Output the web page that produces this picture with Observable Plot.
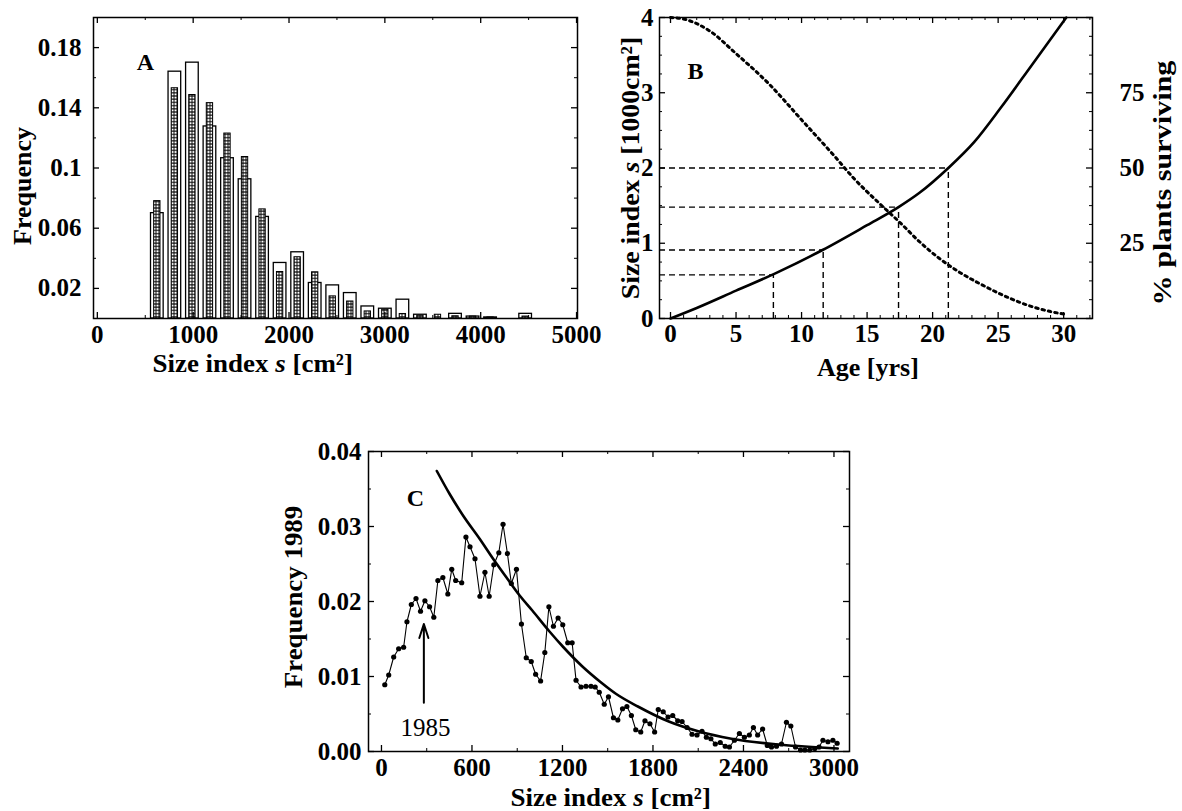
<!DOCTYPE html>
<html><head><meta charset="utf-8">
<script src="https://cdn.jsdelivr.net/npm/d3@7"></script>
<script src="https://cdn.jsdelivr.net/npm/@observablehq/plot@0.6"></script>
<style>
body{margin:0;background:#fff;}
#wrap{position:relative;width:1182px;height:811px;overflow:hidden;background:#fff;font-family:"Liberation Serif","Times New Roman",serif;color:#000;}
#wrap svg{position:absolute;}
.lbl{position:absolute;font-weight:bold;white-space:nowrap;line-height:1;transform-origin:center center;}
</style></head><body><div id="wrap"></div>
<script>
// ---------------- Panel A: size-class histogram ----------------
const aBinCenter   = [626, 809, 992, 1175, 1358, 1541, 1724, 1907, 2090, 2273, 2456, 2639, 2822, 3005, 3188, 3371, 3554, 3737, 3920, 4103, 4469];
const aFreqOpen    = [0.070, 0.164, 0.170, 0.1276, 0.1065, 0.0925, 0.0675, 0.0369, 0.044, 0.0236, 0.022, 0.0169, 0.008, 0.0065, 0.0125, 0.0025, 0, 0.0031, 0.0013, 0.0007, 0.0031];
const aFreqHatched = [0.078, 0.153, 0.1485, 0.1431, 0.1229, 0.1073, 0.0725, 0.0309, 0.0407, 0.0307, 0.0147, 0.0113, 0.0047, 0.0058, 0.003, 0.0018, 0.0025, 0.0015, 0.0013, 0.0007, 0.0013];
const aXTicks = [0, 1000, 2000, 3000, 4000, 5000];
const aXMinor = [500, 1500, 2500, 3500, 4500];
const aYTicks = [0.02, 0.06, 0.1, 0.14, 0.18];
const aYMinor = [0.04, 0.08, 0.12, 0.16];
const aPanelLabel = [{text: "A", x: 501, y: 0.170}];

// ---------------- Panel B: growth and survival vs age ----------------
const bGrowthAge  = [0, 2, 5, 8, 11.6, 15, 17.4, 19, 21.2, 23.2, 25.2, 27.7, 30.2];
const bGrowthSize = [0, 0.14, 0.37, 0.6, 0.91, 1.24, 1.48, 1.67, 2.0, 2.35, 2.8, 3.4, 4.0];
const bSurvAge = [0, 1, 3, 5, 7.5, 10, 12.5, 14, 16, 17.6, 19, 20.5, 22, 23.5, 25, 27, 29, 30];
const bSurvPct = [100, 99.5, 95.5, 88, 78, 66, 54, 46.5, 38, 31.5, 25.5, 20, 15.5, 11.8, 8.5, 4.8, 2.3, 1.5];
const bRefAge  = [7.85, 11.65, 17.4, 21.2];
const bRefSize = [0.58, 0.91, 1.48, 2.0];
const bXTicks = [0, 5, 10, 15, 20, 25, 30];
const bXMinor = [1,2,3,4,6,7,8,9,11,12,13,14,16,17,18,19,21,22,23,24,26,27,28,29,31,32];
const bYTicks = [0, 1, 2, 3, 4];
const bYMinor = [0.25,0.5,0.75,1.25,1.5,1.75,2.25,2.5,2.75,3.25,3.5,3.75];
const bRightLabels = [25, 50, 75];
const PCT_PER_UNIT = 25; // right axis: 100 % == 4 on the left axis
const bPanelLabel = [{text: "B", x: 1.9, y: 3.29}];

// ---------------- Panel C: frequency 1989 ----------------
const cSize = [22,48,81,114,147,169,198,229,259,288,319,347,374,407,440,466,492,532,560,587,620,653,686,714,745,778,806,835,861,895,928,960,993,1022,1055,1083,1110,1140,1171,1202,1235,1264,1290,1323,1356,1389,1417,1444,1477,1505,1538,1567,1598,1627,1657,1686,1719,1747,1780,1811,1835,1868,1900,1931,1964,1993,2026,2059,2092,2125,2154,2184,2213,2246,2279,2307,2340,2373,2406,2439,2466,2494,2527,2558,2586,2619,2652,2685,2714,2745,2778,2807,2840,2873,2901,2927,2960,2993,3021];
const cFreq = [0.0089,0.0102,0.0126,0.0137,0.0139,0.0173,0.0196,0.0204,0.0187,0.0201,0.0193,0.0179,0.0228,0.0232,0.0210,0.0243,0.0228,0.0225,0.0286,0.0273,0.0257,0.0207,0.0239,0.0207,0.0249,0.0265,0.0303,0.0264,0.0224,0.0243,0.0170,0.0125,0.0120,0.0103,0.0094,0.0132,0.0193,0.0167,0.0178,0.0169,0.0145,0.0145,0.0095,0.0086,0.0087,0.0087,0.0086,0.0079,0.0063,0.0073,0.0045,0.0042,0.0057,0.0060,0.0048,0.0029,0.0026,0.0041,0.0037,0.0026,0.0056,0.0053,0.0046,0.0048,0.0041,0.0040,0.0032,0.0023,0.0022,0.0027,0.0019,0.0017,0.0010,0.0012,0.0007,0.0006,0.0015,0.0024,0.0019,0.0022,0.0032,0.0022,0.0030,0.0008,0.0006,0.0007,0.0010,0.0039,0.0034,0.0006,0.0002,0.0002,0.0002,0.0004,0.0006,0.0015,0.0013,0.0015,0.0011];
const cFitSize = [367, 450, 543, 653, 740, 829, 916, 1000, 1114, 1202, 1334, 1450, 1554, 1700, 1905, 2100, 2320, 2650, 3025];
const cFitFreq = [0.0374, 0.0344, 0.0314, 0.0283, 0.0257, 0.0232, 0.0208, 0.0188, 0.0160, 0.0140, 0.0113, 0.0093, 0.0077, 0.0060, 0.0040, 0.0027, 0.0017, 0.0009, 0.0004];
const cXTicks = [0, 600, 1200, 1800, 2400, 3000];
const cXMinor = [300, 900, 1500, 2100, 2700];
const cYTicks = [0, 0.01, 0.02, 0.03, 0.04];
const cYMinor = [0.005, 0.015, 0.025, 0.035];
const cArrow = [{x: 281, y1: 0.0065, y2: 0.0170}];
const cArrowLabel = [{text: "1985", x: 292, y: 0.0032}];
const cPanelLabel = [{text: "C", x: 225, y: 0.0337}];

// ---------------- helpers ----------------
const wrap = document.getElementById("wrap");
const FONT = '"Liberation Serif","Times New Roman",serif';
const baseStyle = {fontFamily: FONT, fontSize: "25px", fontWeight: "bold", color: "black", background: "transparent", overflow: "visible"};
const MAJ = 6, MIN = 3;

// inward ticks on all four sides of the frame
function frameTicks(fw, fh, {xMajor, xMinor, yMajor, yMinor}) {
  const m = [];
  for (const [ticks, len, sw] of [[xMajor, MAJ, 1.3], [xMinor, MIN, 1]]) {
    m.push(Plot.tickX(ticks, {x: d => d, insetTop: fh - len, strokeWidth: sw}));
    m.push(Plot.tickX(ticks, {x: d => d, insetBottom: fh - len, strokeWidth: sw}));
  }
  for (const [ticks, len, sw] of [[yMajor, MAJ, 1.3], [yMinor, MIN, 1]]) {
    m.push(Plot.tickY(ticks, {y: d => d, insetRight: fw - len, strokeWidth: sw}));
    m.push(Plot.tickY(ticks, {y: d => d, insetLeft: fw - len, strokeWidth: sw}));
  }
  return m;
}

function place(svg, left, top) {
  svg.style.left = left + "px";
  svg.style.top = top + "px";
  wrap.appendChild(svg);
}

function addLabel(html, cx, cy, {rotate = 0, size = 26, len = null, weight = "bold"} = {}) {
  const el = document.createElement("div");
  el.className = "lbl";
  el.innerHTML = html;
  el.style.fontSize = size + "px";
  el.style.fontWeight = weight;
  wrap.appendChild(el);
  const w = el.offsetWidth, h = el.offsetHeight;
  const s = len ? len / w : 1;
  el.style.left = (cx - w / 2) + "px";
  el.style.top = (cy - h / 2) + "px";
  el.style.transform = `rotate(${rotate}deg) scaleX(${s})`;
}

// ---------------- Panel A ----------------
const rowsA = aBinCenter.map((c, i) => ({c, open: aFreqOpen[i], hat: aFreqHatched[i]}));
const OPEN_HALF = 66, HAT_HALF = 33;
const A = {width: 600, height: 390, marginLeft: 93, marginRight: 23, marginTop: 17, marginBottom: 72};
const plotA = Plot.plot({
  ...A,
  style: baseStyle,
  x: {domain: [-40, 5010]},
  y: {domain: [0, 0.2]},
  marks: [
    Plot.rect(rowsA.filter(d => d.open > 0), {x1: d => d.c - OPEN_HALF, x2: d => d.c + OPEN_HALF, y1: 0, y2: "open", fill: "white", stroke: "black", strokeWidth: 1.3}),
    Plot.rect(rowsA.filter(d => d.hat > 0), {x1: d => d.c - HAT_HALF, x2: d => d.c + HAT_HALF, y1: 0, y2: "hat", fill: "url(#dotsA)", stroke: "black", strokeWidth: 1}),
    ...frameTicks(A.width - A.marginLeft - A.marginRight, A.height - A.marginTop - A.marginBottom,
                  {xMajor: aXTicks, xMinor: aXMinor, yMajor: aYTicks, yMinor: aYMinor}),
    Plot.axisX({ticks: aXTicks, tickSize: 0, tickPadding: 7, tickFormat: d => String(d), label: null}),
    Plot.axisY({ticks: aYTicks, tickSize: 0, tickPadding: 12, tickFormat: d => String(d), label: null}),
    Plot.frame({strokeWidth: 1.5}),
    Plot.text(aPanelLabel, {x: "x", y: "y", text: "text", fontSize: 24, fontWeight: "bold"})
  ]
});
const ns = "http://www.w3.org/2000/svg";
const defs = document.createElementNS(ns, "defs");
defs.innerHTML = '<pattern id="dotsA" width="3" height="3.2" patternUnits="userSpaceOnUse"><rect width="3" height="3.2" fill="#2a2a2a"/><circle cx="1.5" cy="1.6" r="1.05" fill="#fff"/></pattern>';
plotA.insertBefore(defs, plotA.firstChild);
place(plotA, 0, 0);

// ---------------- Panel B ----------------
const growth = bGrowthAge.map((a, i) => ({age: a, s: bGrowthSize[i]}));
const surv = bSurvAge.map((a, i) => ({age: a, s: bSurvPct[i] / PCT_PER_UNIT}));
const refs = bRefAge.map((a, i) => ({age: a, s: bRefSize[i]}));
const bXDomain = [-0.84, 32.2];
const B = {width: 582, height: 390, marginLeft: 59, marginRight: 90, marginTop: 17, marginBottom: 72};
const plotB = Plot.plot({
  ...B,
  style: baseStyle,
  x: {domain: bXDomain},
  y: {domain: [0, 4]},
  marks: [
    Plot.ruleY(refs, {y: "s", x1: bXDomain[0], x2: "age", strokeWidth: 1.4, strokeDasharray: "6,4"}),
    Plot.ruleX(refs, {x: "age", y1: 0, y2: "s", strokeWidth: 1.4, strokeDasharray: "6,4"}),
    Plot.line(surv, {x: "age", y: "s", curve: "monotone-x", strokeWidth: 3, strokeDasharray: "2.5,4"}),
    Plot.line(growth, {x: "age", y: "s", curve: "monotone-x", strokeWidth: 2.6}),
    ...frameTicks(B.width - B.marginLeft - B.marginRight, B.height - B.marginTop - B.marginBottom,
                  {xMajor: bXTicks, xMinor: bXMinor, yMajor: bYTicks, yMinor: bYMinor}),
    Plot.axisX({ticks: bXTicks, tickSize: 0, tickPadding: 6, tickFormat: d => String(d), label: null}),
    Plot.axisY({ticks: bYTicks, tickSize: 0, tickPadding: 6, tickFormat: d => String(d), label: null}),
    Plot.axisY({ticks: bRightLabels.map(p => p / PCT_PER_UNIT), anchor: "right", tickSize: 0, tickPadding: 27,
                tickFormat: d => String(Math.round(d * PCT_PER_UNIT)), label: null}),
    Plot.frame({strokeWidth: 1.5}),
    Plot.text(bPanelLabel, {x: "x", y: "y", text: "text", fontSize: 24, fontWeight: "bold"})
  ]
});
place(plotB, 600, 0);

// ---------------- Panel C ----------------
const pts = cSize.map((x, i) => ({x, f: cFreq[i]}));
const fit = cFitSize.map((x, i) => ({x, f: cFitFreq[i]}));
const C = {width: 620, height: 381, marginLeft: 118, marginRight: 21, marginTop: 21, marginBottom: 60};
const plotC = Plot.plot({
  ...C,
  style: baseStyle,
  x: {domain: [-86, 3103]},
  y: {domain: [0, 0.04]},
  marks: [
    Plot.line(pts, {x: "x", y: "f", strokeWidth: 1.1}),
    Plot.dot(pts, {x: "x", y: "f", r: 2.6, fill: "black", stroke: "none"}),
    Plot.line(fit, {x: "x", y: "f", curve: "monotone-x", strokeWidth: 2.6}),
    Plot.arrow(cArrow, {x1: "x", x2: "x", y1: "y1", y2: "y2", strokeWidth: 2, headLength: 11, headAngle: 36}),
    Plot.text(cArrowLabel, {x: "x", y: "y", text: "text", fontSize: 25, fontWeight: "normal"}),
    ...frameTicks(C.width - C.marginLeft - C.marginRight, C.height - C.marginTop - C.marginBottom,
                  {xMajor: cXTicks, xMinor: cXMinor, yMajor: cYTicks, yMinor: cYMinor}),
    Plot.axisX({ticks: cXTicks, tickSize: 0, tickPadding: 7, tickFormat: d => String(d), label: null}),
    Plot.axisY({ticks: cYTicks, tickSize: 0, tickPadding: 7, tickFormat: d3.format(".2f"), label: null}),
    Plot.frame({strokeWidth: 1.5}),
    Plot.text(cPanelLabel, {x: "x", y: "y", text: "text", fontSize: 24, fontWeight: "bold"})
  ]
});
place(plotC, 250, 430);

// ---------------- axis titles ----------------
addLabel("Frequency", 23, 186, {rotate: -90, len: 118});
addLabel("Size index <i>s</i> [cm²]", 252, 364, {len: 200});
addLabel("Size index <i>s</i> [1000cm²]", 630, 168, {rotate: -90, len: 262});
addLabel("Age [yrs]", 868, 368, {});
addLabel("% plants surviving", 1163, 183, {rotate: -90, len: 245});
addLabel("Frequency 1989", 294, 597, {rotate: -90, len: 182});
addLabel("Size index <i>s</i> [cm²]", 610, 798, {len: 200});
</script>
</body></html>
